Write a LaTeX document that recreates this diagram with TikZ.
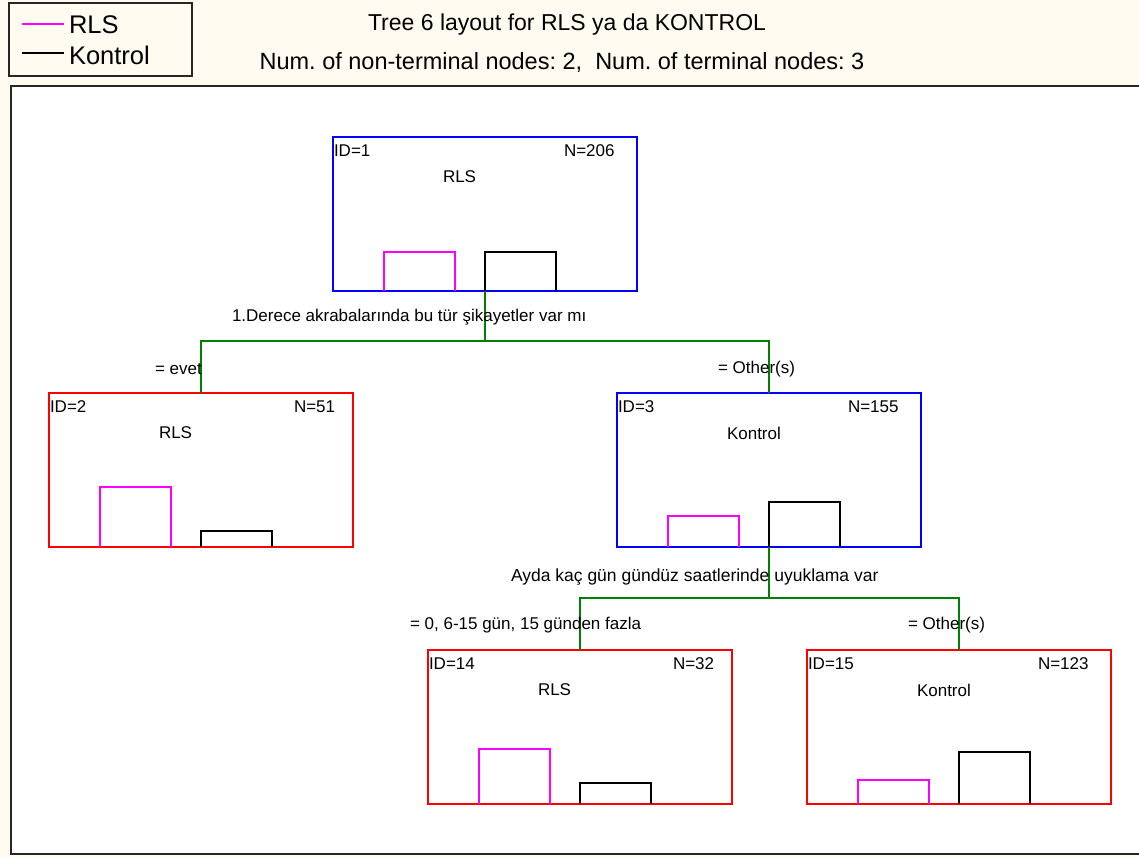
\documentclass[tikz,border=0pt]{standalone}
\usepackage{fontspec}
\setmainfont{Liberation Sans}
\usetikzlibrary{calc}
\definecolor{paper}{RGB}{255,251,240}
\definecolor{rlscol}{RGB}{255,0,255}
\definecolor{splitgreen}{RGB}{0,128,0}
\frenchspacing
\begin{document}
\begin{tikzpicture}[x=1pt,y=-1pt,
  every node/.style={inner sep=0pt, outer sep=0pt, font=\fontsize{17}{20}\selectfont},
  bigtext/.style={font=\fontsize{23.5}{27}\selectfont},
  titletext/.style={font=\fontsize{23}{27}\selectfont},
  legtext/.style={font=\fontsize{25.5}{29}\selectfont},
  treebox/.style={draw, line width=1.5pt, rectangle, minimum width=304pt, minimum height=154pt, anchor=north west},
  internal/.style={treebox, draw=blue},
  terminal/.style={treebox, draw=red},
  rlsbar/.style={draw=rlscol, line width=1.5pt},
  kbar/.style={draw=black, line width=1.5pt},
  splitline/.style={draw=splitgreen, line width=1.5pt},
  lbl/.style={anchor=west}]

% page and plotting area
\useasboundingbox (0,0) rectangle (1139,857);
\fill[paper] (0,0) rectangle (1139,857);
\draw[fill=white, draw=black!85, line width=2.2pt] (11,86) rectangle (1160,854);

% legend
\draw[black!85, line width=1.5pt, fill=paper] (9,3) rectangle (192,76);
\coordinate (lg1a) at (22,24); \coordinate (lg1b) at (64,24);
\coordinate (lg2a) at (22,53); \coordinate (lg2b) at (64,53);
\draw[rlscol, line width=1.2pt] (lg1a) -- (lg1b);
\draw[black, line width=1.2pt] (lg2a) -- (lg2b);
\node[legtext, anchor=west] (legrls) at (69,25) {RLS};
\node[legtext, anchor=west] (legk) at (69,55) {Kontrol};

% titles
\node[titletext] (title) at (567,25) {Tree 6 layout for RLS ya da KONTROL};
\node[bigtext] (subtitle) at (562,62) {Num. of non-terminal nodes: 2,\ \ Num. of terminal nodes: 3};

% tree nodes
\node[internal] (n1) at (333,137) {};
\node[terminal] (n2) at (49,393) {};
\node[internal] (n3) at (617,393) {};
\node[terminal] (n14) at (428,650) {};
\node[terminal] (n15) at (807,650) {};

% node texts: id, size, predicted class
\foreach \n/\id/\N/\nx/\cls in {n1/1/206/231/RLS, n2/2/51/245/RLS, n3/3/155/231/Kontrol, n14/14/32/245/RLS, n15/15/123/231/Kontrol}{
  \node[anchor=west] (\n id) at ([xshift=1pt,yshift=-14pt]\n.north west) {ID=\id};
  \node[anchor=west] (\n size) at ([xshift=\nx pt,yshift=-14pt]\n.north west) {N=\N};
  \node[anchor=west] (\n cls) at ([xshift=110pt,yshift=-40pt]\n.north west) {\cls};
}

% class histograms (bar heights in px)
\foreach \n/\hr/\hk in {n1/39/39, n2/60/16, n3/31/45, n14/55/21, n15/24/52}{
  \draw[rlsbar] ([xshift=51pt]\n.south west) -- ++(0,-\hr) -- ++(71,0) -- ++(0,\hr);
  \draw[kbar] (\n.south) -- ++(0,-\hk) -- ++(71,0) -- ++(0,\hk);
}

% splits
\coordinate (s1) at ([yshift=-50pt]n1.south);
\coordinate (s3) at ([yshift=-51pt]n3.south);
\draw[splitline] (n1.south) -- (s1) -| (n2.north);
\draw[splitline] (s1) -| (n3.north);
\draw[splitline] (n3.south) -- (s3) -| (n14.north);
\draw[splitline] (s3) -| (n15.north);

% split labels
\node[lbl] (q1) at (232,317) {1.Derece akrabalarında bu tür şikayetler var mı};
\node[lbl, font=\fontsize{17.5}{20}\selectfont] (q3) at (511,577) {Ayda kaç gün gündüz saatlerinde uyuklama var};
\node[lbl] (a2) at (155,369) {= evet};
\node[lbl] (a3) at (718,369) {= Other(s)};
\node[lbl] (a14) at (410,625) {= 0, 6-15 gün, 15 günden fazla};
\node[lbl] (a15) at (908,625) {= Other(s)};
\end{tikzpicture}
\end{document}
